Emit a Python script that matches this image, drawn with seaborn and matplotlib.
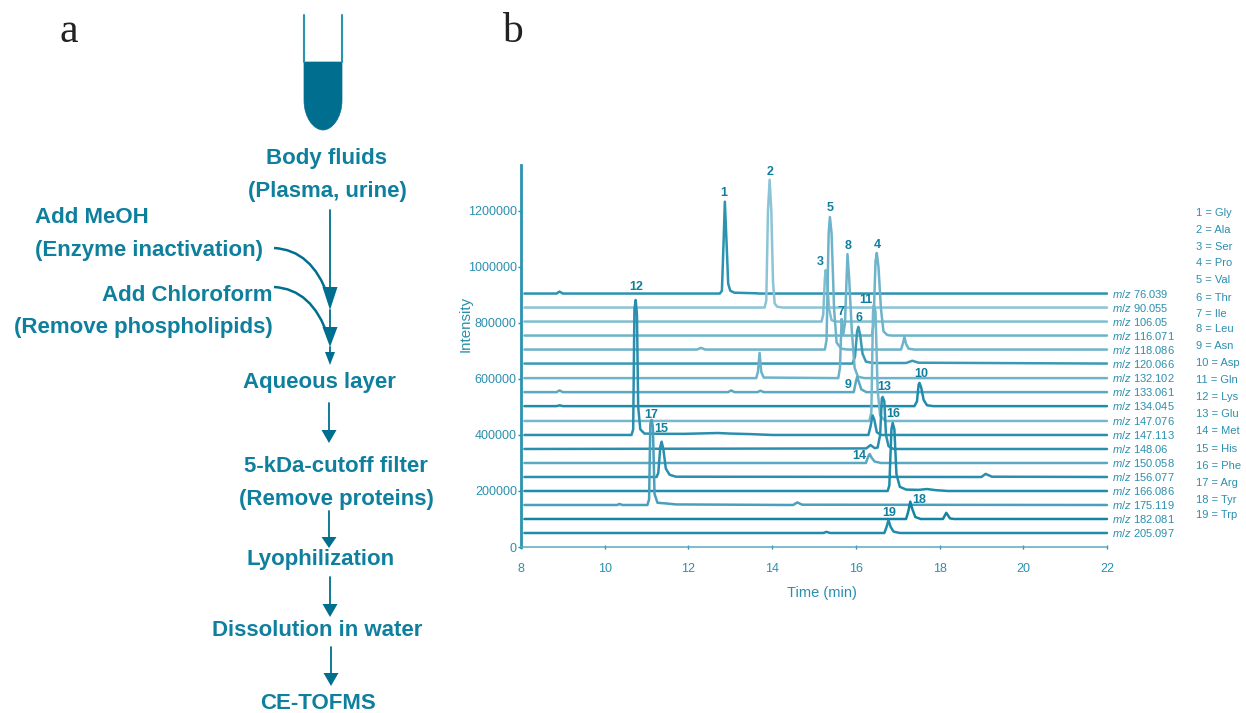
import pandas as pd
import seaborn as sns
import matplotlib.pyplot as plt
from matplotlib.path import Path
from matplotlib.patches import PathPatch, Polygon

# trace names, top to bottom
MZ = ['76.039', '90.055', '106.05', '116.071', '118.086', '120.066', '132.102', '133.061', '134.045',
      '147.076', '147.113', '148.06', '150.058', '156.077', '166.086', '175.119', '182.081', '205.097']

# time (min) and intensity (x1000) of each trace
T_76 = [8.08, 8.85, 8.92, 9.0, 12.75, 12.8, 12.84, 12.87, 12.91, 12.95, 13.0, 13.1, 13.6, 13.7, 22]
I_76 = [905, 905, 912, 905, 905, 915, 1090, 1233, 1090, 940, 915, 908, 906, 905, 905]
T_90 = [8.08, 13.82, 13.86, 13.9, 13.94, 13.98, 14.02, 14.06, 14.12, 14.25, 22]
I_90 = [855, 855, 880, 1200, 1311, 1200, 950, 870, 858, 855, 855]
T_106 = [8.08, 15.18, 15.22, 15.26, 15.28, 15.31, 15.36, 15.42, 15.5, 22]
I_106 = [805, 805, 830, 960, 989, 960, 850, 810, 805, 805]
T_116 = [8.08, 16.38, 16.42, 16.47, 16.5, 16.54, 16.6, 16.66, 16.75, 16.85, 22]
I_116 = [755, 755, 790, 1020, 1050, 1000, 850, 770, 757, 755, 755]
T_118 = [8.08, 12.2, 12.3, 12.4, 15.26, 15.3, 15.35, 15.38, 15.42, 15.48, 15.54, 15.65, 15.8,
         17.08, 17.12, 17.16, 17.2, 17.26, 17.4, 22]
I_118 = [705, 705, 711, 705, 705, 740, 1120, 1178, 1120, 850, 730, 708, 705,
         705, 725, 750, 725, 708, 705, 705]
T_120 = [8.08, 15.92, 15.98, 16.03, 16.06, 16.1, 16.16, 16.24, 16.4, 17.2, 17.35, 17.5, 22]
I_120 = [655, 655, 680, 770, 786, 760, 690, 662, 657, 657, 665, 658, 655]
T_132 = [8.08, 13.62, 13.66, 13.7, 13.74, 13.8, 15.58, 15.62, 15.66, 15.7, 15.74, 15.8, 15.84,
         15.9, 15.97, 16.05, 16.2, 22]
I_132 = [603, 603, 625, 693, 625, 605, 603, 640, 814, 760, 800, 1046, 960, 780, 640, 608, 603, 603]
T_133 = [8.08, 8.85, 8.92, 9.0, 12.95, 13.02, 13.1, 13.65, 13.72, 13.8, 15.95, 16.0, 16.03, 16.07,
         16.13, 16.25, 22]
I_133 = [553, 553, 559, 553, 553, 559, 553, 553, 558, 553, 553, 590, 607, 590, 563, 553, 553]
T_134 = [8.08, 8.85, 8.92, 9.0, 17.4, 17.46, 17.5, 17.52, 17.56, 17.62, 17.7, 17.85, 22]
I_134 = [503, 503, 506, 503, 503, 520, 580, 586, 570, 525, 506, 503, 503]
T_147A = [8.08, 16.32, 16.37, 16.41, 16.43, 16.47, 16.52, 16.58, 16.7, 22]
I_147A = [450, 450, 480, 840, 864, 840, 560, 470, 450, 450]
T_147B = [8.08, 10.64, 10.68, 10.71, 10.74, 10.77, 10.8, 10.85, 10.95, 11.5, 11.9, 12.7, 13.0, 13.5,
          14.0, 16.3, 16.35, 16.4, 16.44, 16.5, 16.6, 22]
I_147B = [400, 400, 420, 850, 882, 830, 500, 420, 405, 404, 404, 407, 405, 403,
          400, 400, 430, 470, 455, 410, 400, 400]
T_148 = [8.08, 16.25, 16.35, 16.45, 16.52, 16.58, 16.62, 16.64, 16.68, 16.72, 16.78, 16.9, 22]
I_148 = [350, 352, 364, 353, 355, 400, 530, 536, 520, 400, 360, 350, 350]
T_150 = [8.08, 16.24, 16.3, 16.33, 16.38, 16.45, 16.6, 22]
I_150 = [300, 300, 325, 332, 318, 305, 300, 300]
T_156 = [8.08, 11.24, 11.28, 11.33, 11.36, 11.4, 11.46, 11.55, 11.7, 19.0, 19.1, 19.25, 22]
I_156 = [250, 250, 265, 360, 376, 350, 280, 258, 251, 250, 261, 251, 250]
T_166 = [8.08, 16.76, 16.8, 16.85, 16.88, 16.92, 16.97, 17.05, 17.2, 17.5, 17.7, 17.9, 18.2, 22]
I_166 = [200, 200, 220, 420, 443, 420, 260, 215, 205, 204, 207, 203, 200, 200]
T_175 = [8.08, 10.3, 10.35, 10.42, 11.02, 11.06, 11.09, 11.12, 11.15, 11.19, 11.26, 11.5, 11.7,
         14.5, 14.6, 14.72, 22]
I_175 = [150, 150, 154, 150, 150, 170, 440, 454, 430, 190, 158, 155, 152, 150, 159, 151, 150]
T_182 = [8.08, 17.2, 17.25, 17.3, 17.35, 17.42, 17.55, 18.08, 18.16, 18.25, 18.35, 22]
I_182 = [100, 100, 125, 162, 135, 107, 100, 100, 122, 102, 100, 100]
T_205 = [8.08, 15.22, 15.3, 15.38, 16.68, 16.73, 16.78, 16.83, 16.9, 17.05, 22]
I_205 = [50, 50, 54, 50, 50, 70, 96, 72, 55, 50, 50]

TIMES = [T_76, T_90, T_106, T_116, T_118, T_120, T_132, T_133, T_134,
         T_147A, T_147B, T_148, T_150, T_156, T_166, T_175, T_182, T_205]
INTENSITIES = [I_76, I_90, I_106, I_116, I_118, I_120, I_132, I_133, I_134,
               I_147A, I_147B, I_148, I_150, I_156, I_166, I_175, I_182, I_205]

TRACE_COLORS = ['#2a93b0', '#8cc4d6', '#7fbdd1', '#6db3ca', '#6db3ca', '#3a9ab6', '#6db3ca', '#5ba8c2',
                '#1f8cab', '#75b8ce', '#2a8fae', '#2a8fae', '#5ba8c2', '#2a8fae', '#1f8cab', '#4aa0bc',
                '#1484a5', '#1f8cab']

AMINO_ACIDS = ['Gly', 'Ala', 'Ser', 'Pro', 'Val', 'Thr', 'Ile', 'Leu', 'Asn', 'Asp',
               'Gln', 'Lys', 'Glu', 'Met', 'His', 'Phe', 'Arg', 'Tyr', 'Trp']
X_TICKS = [8, 10, 12, 14, 16, 18, 20, 22]
Y_TICKS = [0, 200000, 400000, 600000, 800000, 1000000, 1200000]

# peak number label -> pixel position
PEAK_LABELS = [('1', 724, 193), ('2', 770, 172), ('5', 830, 208), ('3', 820, 262), ('8', 848, 246),
               ('4', 877, 245), ('11', 866, 300), ('7', 841, 312), ('6', 859, 318), ('9', 848, 385),
               ('13', 884, 387), ('12', 636, 287), ('17', 651, 415), ('15', 661, 429), ('16', 893, 414),
               ('14', 859, 456), ('10', 921, 374), ('18', 919, 500), ('19', 889, 513)]
LEGEND_Y = [213, 230, 247, 263, 280, 298, 314, 329, 346, 363, 380, 397, 414, 431, 449, 466, 483, 500, 515]

# label, x, baseline y, alignment
FLOW_TEXT = [('Body fluids', 327, 164, 'center'), ('(Plasma, urine)', 327, 197, 'center'),
             ('Add MeOH', 35, 223, 'left'), ('(Enzyme inactivation)', 35, 256, 'left'),
             ('Add Chloroform', 273, 301, 'right'), ('(Remove phospholipids)', 273, 333, 'right'),
             ('Aqueous layer', 319, 388, 'center'), ('5-kDa-cutoff filter', 336, 472, 'center'),
             ('(Remove proteins)', 336, 505, 'center'), ('Lyophilization', 321, 565, 'center'),
             ('Dissolution in water', 317, 636, 'center'), ('CE-TOFMS', 318, 709, 'center')]
# x, line start y, head top y, tip y
FLOW_ARROWS = [(330, 210, 287, 310), (330, 310, 327, 347), (330, 347, 352, 365), (329, 403, 430, 443),
               (329, 511, 537, 548), (330, 577, 604, 617), (331, 647, 673, 686)]

DARK = '#006f8f'
TEXT = '#0f7f9e'
TICK = '#2a8fae'

rows = []
for mz, times, vals in zip(MZ, TIMES, INTENSITIES):
    for t, v in zip(times, vals):
        rows.append({'mz': mz, 'time': t, 'intensity': v * 1000})
df = pd.DataFrame(rows)

sns.set_theme(style='white')
plt.rcParams['font.family'] = ['Liberation Sans', 'DejaVu Sans']
plt.rcParams['mathtext.fontset'] = 'custom'
plt.rcParams['mathtext.it'] = 'Liberation Sans:italic'
plt.rcParams['mathtext.rm'] = 'Liberation Sans'

W, H = 1246, 713
fig = plt.figure(figsize=(W / 100, H / 100), dpi=100)

# chromatogram, axes box given in picture pixels
left, right, top, bottom = 521, 1107, 165, 547
ax = fig.add_axes([left / W, 1 - bottom / H, (right - left) / W, (bottom - top) / H])
sns.lineplot(data=df, x='time', y='intensity', hue='mz', hue_order=MZ,
             palette=dict(zip(MZ, TRACE_COLORS)), estimator=None, sort=False,
             linewidth=1.8, legend=False, ax=ax, clip_on=False)
ax.set_xlim(8, 22)
ax.set_ylim(0, 1364000)
ax.set_xticks(X_TICKS)
ax.set_yticks(Y_TICKS)
ax.ticklabel_format(axis='y', style='plain', useOffset=False)
ax.set_xlabel('')
ax.set_ylabel('')
ax.tick_params(axis='x', length=3, width=1, color=TICK, labelcolor=TICK, labelsize=9, pad=10, direction='inout')
ax.tick_params(axis='y', length=2, width=1, color=TICK, labelcolor=TICK, labelsize=9, pad=1, left=True)
ax.xaxis.set_tick_params(bottom=True)
sns.despine(ax=ax)
ax.spines['left'].set_color('#2a93b0')
ax.spines['left'].set_linewidth(2)
ax.spines['bottom'].set_color('#5ba8c2')
ax.spines['bottom'].set_linewidth(1.1)

for mz, vals in zip(MZ, INTENSITIES):
    ax.text(22.12, vals[0] * 1000, r'$\mathit{m/z}$ ' + mz, color=TICK, fontsize=8, va='center', ha='left')

# everything else is placed in picture pixels
ov = fig.add_axes([0, 0, 1, 1], facecolor='none')
ov.set_xlim(0, W)
ov.set_ylim(H, 0)
ov.axis('off')

ov.text(466, 324, 'Intensity', color=TICK, fontsize=10.8, rotation=90, ha='center', va='center')
ov.text(822, 593, 'Time (min)', color=TICK, fontsize=10.5, ha='center', va='center')

for label, x, y in PEAK_LABELS:
    ov.text(x, y, label, color=TEXT, fontsize=9, fontweight='bold', ha='center', va='center')

for i, (name, y) in enumerate(zip(AMINO_ACIDS, LEGEND_Y)):
    ov.text(1196, y, f'{i + 1} = {name}', color=TICK, fontsize=8, ha='left', va='center')

ov.text(69, 42, 'a', family='Liberation Serif', color='#222222', fontsize=30, ha='center', va='baseline')
ov.text(512, 42, 'b', family='Liberation Serif', color='#222222', fontsize=30, ha='center', va='baseline')

# test tube
ov.plot([304, 304], [15, 62], color='#2a93b0', lw=1.5)
ov.plot([342, 342], [15, 62], color='#2a93b0', lw=1.5)
tube = Path([(304, 62), (342, 62), (342, 100), (342, 118), (332, 130), (323, 130), (314, 130), (304, 118),
             (304, 100), (304, 62)],
            [Path.MOVETO, Path.LINETO, Path.LINETO, Path.CURVE4, Path.CURVE4, Path.CURVE4, Path.CURVE4,
             Path.CURVE4, Path.CURVE4, Path.LINETO])
ov.add_patch(PathPatch(tube, facecolor=DARK, edgecolor=DARK, lw=0.5))

for label, x, y, ha in FLOW_TEXT:
    ov.text(x, y, label, color=TEXT, fontsize=16, fontweight='bold', ha=ha, va='baseline')

for x, y0, y1, y2 in FLOW_ARROWS:
    half = 5 if y1 == 352 else 7.5
    ov.plot([x, x], [y0, y1 + 2], color=DARK, lw=1.3)
    ov.add_patch(Polygon([(x - half, y1), (x + half, y1), (x, y2)], closed=True, facecolor=DARK, edgecolor='none'))

# curved reagent arrows
for x0, y0, y1 in [(274, 248, 296), (274, 287, 336)]:
    curve = Path([(x0, y0), (312, y0 + 2), (328, y1)], [Path.MOVETO, Path.CURVE3, Path.CURVE3])
    ov.add_patch(PathPatch(curve, facecolor='none', edgecolor=DARK, lw=1.8))

fig.savefig('out.png', dpi=100)
